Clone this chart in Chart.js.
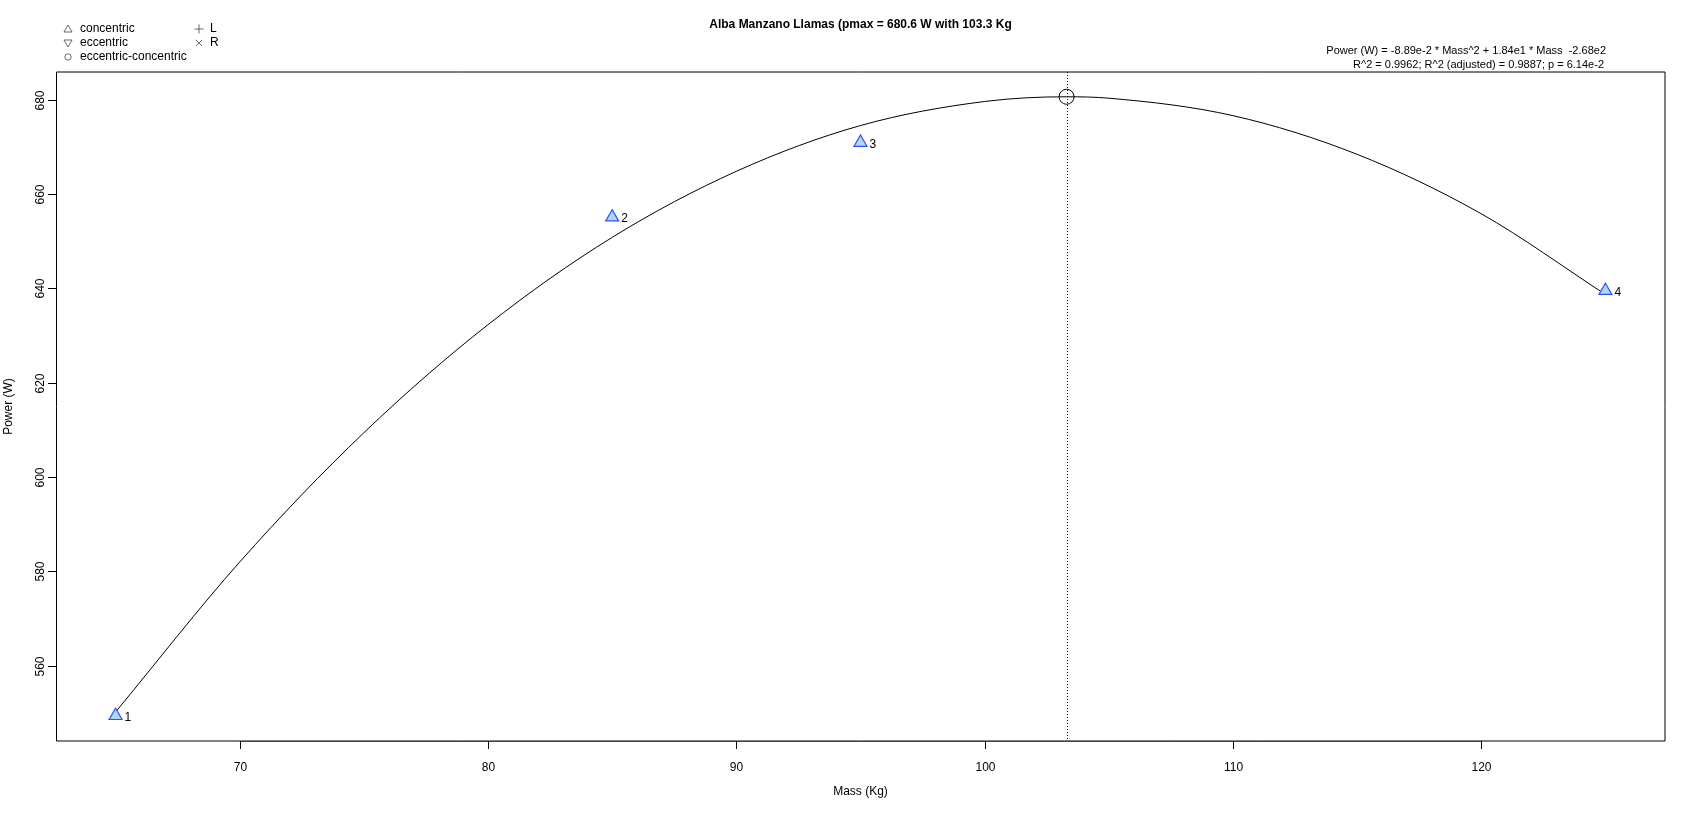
<!DOCTYPE html>
<html>
<head>
<meta charset="utf-8">
<script src="https://cdn.jsdelivr.net/npm/chart.js@4/dist/chart.umd.min.js"></script>
<style>
  html, body { margin: 0; padding: 0; background: #fff; }
  #wrap { width: 1694px; height: 813px; }
</style>
</head>
<body>
<div id="wrap"><canvas id="powerChart" width="1694" height="813"></canvas></div>
<script>
// measured points (mass in Kg, power in W)
const massValues = [65, 85, 95, 125];
const powerValues = [549.4, 655.1, 670.9, 639.5];
const pointLabels = ['1', '2', '3', '4'];

// fitted curve
const fitMass = [65, 70, 75, 80, 85, 90, 95, 100, 103.3, 105, 110, 115, 120, 125];
const fitPower = [550.2, 582.0, 609.4, 632.3, 650.8, 664.8, 674.5, 679.6, 680.6, 680.3, 676.6, 668.4, 655.8, 638.7];

const pmaxMass = 103.3;
const pmaxPower = 680.6;

const xTicks = [70, 80, 90, 100, 110, 120];
const yTicks = [560, 580, 600, 620, 640, 660, 680];

const titleText = 'Alba Manzano Llamas (pmax = 680.6 W with 103.3 Kg';
const equationLines = [
    'Power (W) = -8.89e-2 * Mass^2 + 1.84e1 * Mass  -2.68e2',
    'R^2 = 0.9962; R^2 (adjusted) = 0.9887; p = 6.14e-2'
];

const FONT = '"Liberation Sans", Arial, sans-serif';

// draws the R-like frame, axes, texts and legend
const rPlotDecor = {
    id: 'rPlotDecor',
    beforeDatasetsDraw(chart) {
        const { ctx, chartArea: a, scales: { x } } = chart;
        ctx.save();
        // dotted line at pmax mass
        const px = Math.round(x.getPixelForValue(pmaxMass)) + 0.5;
        ctx.strokeStyle = '#000';
        ctx.lineWidth = 1;
        ctx.setLineDash([1, 2]);
        ctx.beginPath();
        ctx.moveTo(px, a.top);
        ctx.lineTo(px, a.bottom);
        ctx.stroke();
        ctx.restore();
    },
    afterDraw(chart) {
        const { ctx, chartArea: a, scales: { x, y } } = chart;
        ctx.save();

        // box
        ctx.strokeStyle = '#000';
        ctx.lineWidth = 1;
        ctx.beginPath();
        ctx.moveTo(a.left + 0.5, a.top);
        ctx.lineTo(a.right, a.top);
        ctx.lineTo(a.right, a.bottom);
        ctx.lineTo(a.left + 0.5, a.bottom);
        ctx.closePath();
        ctx.stroke();

        // x axis line + ticks
        ctx.strokeStyle = '#444';
        ctx.beginPath();
        ctx.moveTo(x.getPixelForValue(xTicks[0]), a.bottom + 0.5);
        ctx.lineTo(x.getPixelForValue(xTicks[xTicks.length - 1]), a.bottom + 0.5);
        ctx.stroke();
        ctx.strokeStyle = '#000';
        ctx.fillStyle = '#000';
        ctx.font = '12px ' + FONT;
        ctx.textAlign = 'center';
        ctx.textBaseline = 'middle';
        xTicks.forEach(v => {
            const tx = Math.round(x.getPixelForValue(v)) + 0.5;
            ctx.beginPath();
            ctx.moveTo(tx, a.bottom);
            ctx.lineTo(tx, a.bottom + 8);
            ctx.stroke();
            ctx.fillText(String(v), tx, a.bottom + 27);
        });

        // y ticks
        yTicks.forEach(v => {
            const ty = Math.round(y.getPixelForValue(v)) + 0.5;
            ctx.beginPath();
            ctx.moveTo(a.left - 8, ty);
            ctx.lineTo(a.left, ty);
            ctx.stroke();
            ctx.save();
            ctx.translate(a.left - 15, ty);
            ctx.rotate(-Math.PI / 2);
            ctx.fillText(String(v), 0, 0);
            ctx.restore();
        });

        // axis titles
        ctx.fillText('Mass (Kg)', (a.left + a.right) / 2, 792);
        ctx.save();
        ctx.translate(9, (a.top + a.bottom) / 2);
        ctx.rotate(-Math.PI / 2);
        ctx.fillText('Power (W)', 0, 0);
        ctx.restore();

        // title
        ctx.font = 'bold 12px ' + FONT;
        ctx.fillText(titleText, (a.left + a.right) / 2, 25);

        // equation
        ctx.font = '11px ' + FONT;
        ctx.textAlign = 'right';
        ctx.fillText(equationLines[0], 1606, 51);
        ctx.fillText(equationLines[1], 1604, 65);

        // point numbers
        ctx.font = '12px ' + FONT;
        ctx.textAlign = 'left';
        const meta = chart.getDatasetMeta(1);
        meta.data.forEach((pt, i) => {
            ctx.fillText(pointLabels[i], pt.x + 9, pt.y + 2);
        });

        // legend
        ctx.font = '12px ' + FONT;
        ctx.lineWidth = 0.8;
        ctx.strokeStyle = '#444';
        const lx = 68;
        const rows = [29, 43, 57];
        // up triangle
        ctx.beginPath();
        ctx.moveTo(lx, rows[0] - 4);
        ctx.lineTo(lx + 4, rows[0] + 3);
        ctx.lineTo(lx - 4, rows[0] + 3);
        ctx.closePath();
        ctx.stroke();
        // down triangle
        ctx.beginPath();
        ctx.moveTo(lx, rows[1] + 4);
        ctx.lineTo(lx + 4, rows[1] - 3);
        ctx.lineTo(lx - 4, rows[1] - 3);
        ctx.closePath();
        ctx.stroke();
        // circle
        ctx.beginPath();
        ctx.arc(lx, rows[2], 3.2, 0, Math.PI * 2);
        ctx.stroke();
        ctx.fillText('concentric', 80, rows[0]);
        ctx.fillText('eccentric', 80, rows[1]);
        ctx.fillText('eccentric-concentric', 80, rows[2]);
        // plus and cross
        const sx = 199;
        ctx.beginPath();
        ctx.moveTo(sx - 4.5, rows[0]);
        ctx.lineTo(sx + 4.5, rows[0]);
        ctx.moveTo(sx, rows[0] - 4.5);
        ctx.lineTo(sx, rows[0] + 4.5);
        ctx.moveTo(sx - 3.2, rows[1] - 3.2);
        ctx.lineTo(sx + 3.2, rows[1] + 3.2);
        ctx.moveTo(sx + 3.2, rows[1] - 3.2);
        ctx.lineTo(sx - 3.2, rows[1] + 3.2);
        ctx.stroke();
        ctx.fillText('L', 210, rows[0]);
        ctx.fillText('R', 210, rows[1]);

        ctx.restore();
    }
};

const ctx = document.getElementById('powerChart');

new Chart(ctx, {
    type: 'scatter',
    data: {
        datasets: [
            {
                type: 'line',
                data: fitMass.map((m, i) => ({ x: m, y: fitPower[i] })),
                borderColor: '#000',
                borderWidth: 1,
                pointRadius: 0,
                fill: false,
                cubicInterpolationMode: 'monotone',
                order: 2
            },
            {
                data: massValues.map((m, i) => ({ x: m, y: powerValues[i] })),
                pointStyle: 'triangle',
                pointRadius: 7.5,
                backgroundColor: '#add8e6',
                borderColor: '#3050ff',
                borderWidth: 1.2,
                order: 1
            },
            {
                data: [{ x: pmaxMass, y: pmaxPower }],
                pointStyle: 'circle',
                pointRadius: 7.5,
                backgroundColor: 'rgba(0,0,0,0)',
                borderColor: '#000',
                borderWidth: 1,
                order: 0
            }
        ]
    },
    options: {
        responsive: false,
        animation: false,
        events: [],
        layout: {
            padding: { left: 56, top: 72, right: 29, bottom: 72 }
        },
        scales: {
            x: { type: 'linear', min: 62.6, max: 127.4, display: false },
            y: { type: 'linear', min: 544.05, max: 685.85, display: false }
        },
        plugins: {
            legend: { display: false },
            tooltip: { enabled: false }
        }
    },
    plugins: [rPlotDecor]
});
</script>
</body>
</html>
